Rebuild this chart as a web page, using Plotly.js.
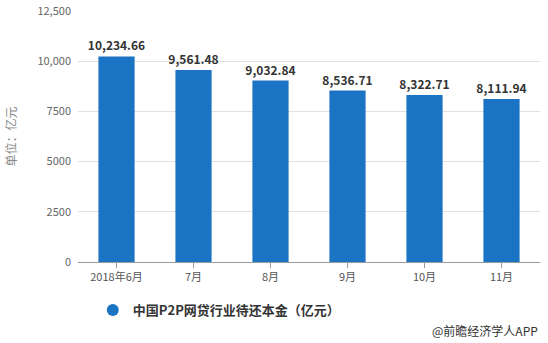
<!DOCTYPE html>
<html><head><meta charset="utf-8">
<script src="https://cdn.plot.ly/plotly-3.0.1.min.js"></script>
<style>html,body{margin:0;padding:0;background:#fff}#c{width:548px;height:343px}</style>
</head><body><div id="c"></div>
<script>
var categories = ['2018年6月','7月','8月','9月','10月','11月'];
var values = [10234.66, 9561.48, 9032.84, 8536.71, 8322.71, 8111.94];
var seriesName = '中国P2P网贷行业待还本金（亿元）';
var yTickVals = [0, 2500, 5000, 7500, 10000, 12500];
var yTickText = ['0', '2500', '5000', '7500', '10,000', '12,500'];
var barColor = '#1a73c3';
var font = 'Microsoft YaHei, "Noto Sans CJK SC", sans-serif';

var labels = values.map(function(v){return v.toLocaleString('en-US',{minimumFractionDigits:2,maximumFractionDigits:2});});

var traces = [
  {type:'bar', x:categories, y:values, marker:{color:barColor}, showlegend:false,
   text:labels, textposition:'outside', cliponaxis:false, constraintext:'none',
   textfont:{family:font, size:12, color:'#333', weight:'bold'}, hoverinfo:'none'},
  {type:'scatter', mode:'markers', x:[null], y:[null], name:seriesName,
   marker:{color:barColor, size:12, symbol:'circle'}, showlegend:true}
];
var layout = {
  width:548, height:343,
  margin:{l:78, r:8, t:11, b:81, autoexpand:false},
  paper_bgcolor:'#fff', plot_bgcolor:'#fff',
  bargap:0.53,
  font:{family:font, color:'#666', size:11},
  xaxis:{type:'category', showline:true, linecolor:'#999', linewidth:1,
    ticks:'outside', ticklen:5, tickcolor:'#999', showgrid:false, automargin:false,
    tickfont:{family:font, size:11, color:'#555'}},
  yaxis:{range:[0,12500], tickvals:yTickVals, ticktext:yTickText, automargin:false,
    showgrid:true, gridcolor:'#e0e0e0', gridwidth:1, zeroline:false, showline:false,
    ticks:'', ticklabelstandoff:6,
    tickfont:{family:font, size:11, color:'#666'},
    title:{text:'单位：亿元', font:{family:font, size:12, color:'#888'}, standoff:18}},
  legend:{orientation:'h', x:0.032, xanchor:'left', yref:'container', y:0.096, yanchor:'middle',
    font:{family:font, size:13, color:'#333', weight:'bold'}},
  annotations:[{text:'@前瞻经济学人APP', xref:'paper', yref:'paper', x:1.0, y:-0.271,
    xanchor:'right', yanchor:'middle', showarrow:false,
    font:{family:font, size:12, color:'#333'}}]
};
Plotly.newPlot('c', traces, layout, {staticPlot:true, displayModeBar:false});
</script></body></html>
